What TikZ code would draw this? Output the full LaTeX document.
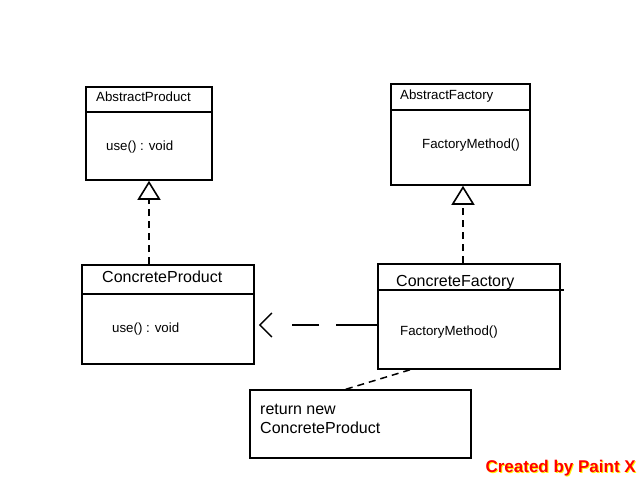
\documentclass[tikz,border=0pt]{standalone}
\usepackage{fontspec}
\setmainfont{Liberation Sans}
\usetikzlibrary{arrows.meta}
\begin{document}
\begin{tikzpicture}[x=1pt,y=-1pt]
  \tikzstyle{classbox}=[draw, line width=1.6pt, inner sep=0pt]
  \tikzstyle{smalltext}=[anchor=base west, inner sep=0pt, font=\fontsize{13.3}{15}\selectfont]
  \tikzstyle{bigtext}=[anchor=base west, inner sep=0pt, font=\fontsize{16}{18}\selectfont]
  \tikzstyle{realize}=[line width=1.6pt, dash pattern=on 7pt off 5pt, -{Triangle[open, width=23pt, length=19pt, line width=1.6pt]}]
  \useasboundingbox (0,0) rectangle (640,480);

  % Node definitions
  \node[classbox, minimum width=126pt, minimum height=93pt] (ap) at (149,133.5) {};
  \node[classbox, minimum width=139pt, minimum height=101pt] (af) at (460.5,134.5) {};
  \node[classbox, minimum width=172pt, minimum height=99pt] (cp) at (168,314.5) {};
  \node[classbox, minimum width=182pt, minimum height=105pt] (cf) at (469,316.5) {};
  \node[classbox, line width=1.3pt, minimum width=221pt, minimum height=68pt] (note) at (360.5,424) {};

  % Compartment lines
  \draw[line width=1.6pt] (ap.west |- 0,112) -- (ap.east |- 0,112);
  \draw[line width=1.6pt] (af.west |- 0,110) -- (af.east |- 0,110);
  \draw[line width=1.6pt] (cp.west |- 0,294) -- (cp.east |- 0,294);
  \draw[line width=1.6pt] (cf.west |- 0,290) -- ([xshift=3pt]cf.east |- 0,290);

  % Texts
  \node[smalltext] (apname) at (96,101) {AbstractProduct};
  \node[smalltext] (apop) at (106,150) {use() : void};
  \node[smalltext] (afname) at (400,99) {AbstractFactory};
  \node[smalltext] (afop) at (422,148) {FactoryMethod()};
  \node[bigtext] (cpname) at (102,282) {ConcreteProduct};
  \node[smalltext] (cpop) at (112,332) {use() : void};
  \node[bigtext] (cfname) at (396,286) {ConcreteFactory};
  \node[smalltext] (cfop) at (400,335) {FactoryMethod()};
  \node[bigtext] (notetext) at (260,414) {return new};
  \node[bigtext] (notetext2) at (260,433) {ConcreteProduct};

  % Connectors
  \draw[realize] (ap.south |- cp.north) -- (ap.south);
  \draw[realize] ([xshift=2.5pt]af.south |- cf.north) -- ([xshift=2.5pt]af.south);
  \draw[line width=1.5pt, dash pattern=on 41pt off 17pt on 27pt off 60pt,
        -{Straight Barb[length=12pt, width=24pt, line width=1.5pt]}]
    (cf.west |- 0,325) -- ([xshift=4pt]cp.east |- 0,325);
  \draw[line width=1.5pt, dash pattern=on 7pt off 5pt]
    ([xshift=-59pt]cf.south) -- ([xshift=-15pt]note.north);

  % Watermark
  \node[anchor=base east, inner sep=0pt, text=yellow, font=\bfseries\fontsize{17}{19}\selectfont] (markshadow) at (637,473) {Created by Paint X};
  \node[anchor=base east, inner sep=0pt, text=red, font=\bfseries\fontsize{17}{19}\selectfont] (mark) at (636,472) {Created by Paint X};
\end{tikzpicture}
\end{document}
